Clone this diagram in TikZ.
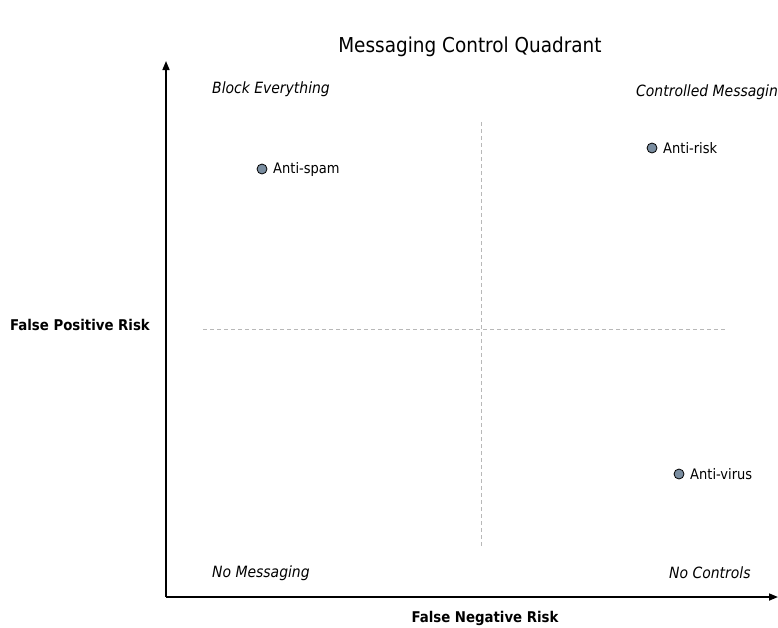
\documentclass[tikz,border=0pt]{standalone}
\usepackage{fontspec}
\setmainfont{DejaVu Sans Condensed}
\usetikzlibrary{arrows.meta}
\begin{document}
\begin{tikzpicture}[x=1pt,y=-1pt,
  axis/.style={line width=1.6pt,-{Triangle[length=9pt,width=7pt]}},
  guide/.style={draw=black!28,line width=1pt,dash pattern=on 4pt off 3pt},
  dot/.style={circle,draw=black,line width=0.8pt,fill={rgb,255:red,122;green,141;blue,160},inner sep=0pt,minimum size=10pt},
  lbl/.style={font=\fontsize{14.5}{16}\selectfont,anchor=west,inner sep=0pt},
  corner/.style={font=\fontsize{15.5}{17}\selectfont\itshape,anchor=west,inner sep=0pt},
  axlbl/.style={font=\fontsize{14.8}{17}\selectfont\bfseries,inner sep=0pt},
  title/.style={font=\fontsize{20.5}{23}\selectfont,inner sep=0pt}]
\useasboundingbox (0,0) rectangle (778,627);
% axes
\coordinate (origin) at (166,597);
\coordinate (ytop) at (166,61);
\coordinate (xend) at (778,597);
\draw[axis] (origin) -- (ytop);
\draw[axis] (origin) -- (xend);
% quadrant dividers
\coordinate (hl) at (203,329);
\coordinate (hr) at (727,329);
\coordinate (vt) at (481,122);
\coordinate (vb) at (481,548);
\draw[guide] (hl) -- (hr);
\draw[guide] (vt) -- (vb);
% title and axis labels
\node[title] (title) at (470,47) {Messaging Control Quadrant};
\node[axlbl] (ylabel) at (80,325) {False Positive Risk};
\node[axlbl] (xlabel) at (485,618) {False Negative Risk};
% quadrant names
\node[corner] (q1) at (212,89) {Block Everything};
\node[corner] (q2) at (636,92) {Controlled Messaging};
\node[corner] (q3) at (212,573) {No Messaging};
\node[corner] (q4) at (669,573) {No Controls};
% plotted products
\node[dot] (spam) at (262,169) {};
\node[lbl] (spamt) at (273,169) {Anti-spam};
\node[dot] (risk) at (652,148) {};
\node[lbl] (riskt) at (663,148) {Anti-risk};
\node[dot] (virus) at (679,474) {};
\node[lbl] (virust) at (690,474) {Anti-virus};
\end{tikzpicture}
\end{document}
